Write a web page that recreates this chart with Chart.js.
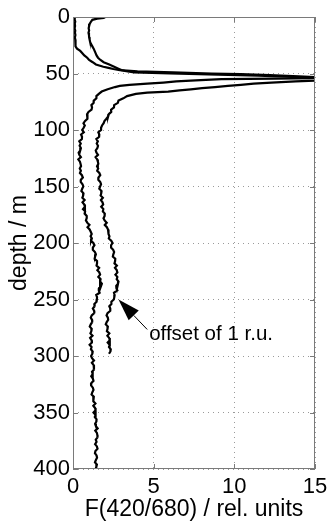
<!DOCTYPE html>
<html>
<head>
<meta charset="utf-8">
<script src="https://cdn.jsdelivr.net/npm/chart.js@4/dist/chart.umd.min.js"></script>
<style>
html,body{margin:0;padding:0;background:#fff;}
#wrap{width:328px;height:521px;}
</style>
</head>
<body>
<div id="wrap"><canvas id="c" width="328" height="521"></canvas></div>
<script>
// ---- tick labels ----
const xTicks = [0, 5, 10, 15];
const yTicks = [0, 50, 100, 150, 200, 250, 300, 350, 400];

// ---- profile 1 (no offset): depth (m) and F(420/680) ----
const depthA = [0,2,4,6,8,10,12,14,16,18,20,22,24,26,28,30,32,34,36,38,40,42,44,45,46,47,48,49,50,50.5,51.5,52.5,53.5,54,54.5,55,56,57,58,59,60,61,62,64,66,68,70,
72,74,76,78,80,82,84,86,88,90,92,94,96,98,100,102,104,106,108,110,112,114,116,118,120,122,124,126,128,130,132,134,136,138,140,142,144,146,148,150,
152,154,156,158,160,162,164,166,168,170,172,174,176,178,180,182,184,186,188,190,192,194,196,198,200,202,204,206,208,210,212,214,216,218,220,222,224,226,228,230,
232,234,236,238,240,242,244,246,248,250,252,254,256,258,260,262,264,266,268,270,272,274,276,278,280,282,284,286,288,290,292,294,296,298,300,
302,304,306,308,310,312,314,316,318,320,322,324,326,328,330,332,334,336,338,340,342,344,346,348,350,352,354,356,358,360,362,364,366,368,370,
372,374,376,378,380,382,384,386,388,390,392,394,396,398,400];
const valueA = [0.12,0.10,0.14,0.11,0.13,0.10,0.14,0.12,0.15,0.12,0.14,0.13,0.16,0.18,0.25,0.45,0.58,0.7,0.88,1.0,1.22,1.42,1.88,2.2,2.5,2.9,4.0,6.2,8.6,10.4,12.2,14.0,15.4,15.4,12.5,9.2,7.6,6.4,5.6,4.6,3.5,2.9,2.6,2.15,1.78,1.6,1.45,
1.45,1.29,1.28,1.14,1.18,1.15,0.96,0.87,0.91,0.88,0.75,0.65,0.73,0.66,0.57,
0.67,0.5,0.56,0.55,0.39,0.48,0.41,0.49,0.45,0.35,0.39,0.49,0.33,0.43,0.47,
0.5,0.42,0.49,0.43,0.55,0.61,0.49,0.48,0.59,0.64,0.57,0.52,0.65,0.63,0.58,
0.72,0.59,0.7,0.74,0.62,0.75,0.72,0.85,0.85,0.8,0.88,1.02,0.9,1.03,1.1,
1.16,1.09,1.17,1.12,1.26,1.33,1.23,1.23,1.36,1.42,1.37,1.34,1.49,1.49,1.46,
1.62,1.51,1.63,1.68,1.57,1.71,1.68,1.79,1.74,1.61,1.6,1.65,1.44,1.49,1.48,
1.46,1.32,1.34,1.23,1.31,1.32,1.16,1.1,1.18,1.19,1.1,1.04,1.16,1.14,1.08,
1.21,1.06,1.15,1.17,1.03,1.15,1.11,1.22,1.2,1.12,1.18,1.3,1.17,1.28,1.3,
1.3,1.18,1.22,1.13,1.23,1.27,1.14,1.12,1.23,1.27,1.2,1.15,1.29,1.28,1.24,
1.39,1.26,1.37,1.4,1.27,1.39,1.35,1.46,1.45,1.37,1.42,1.53,1.38,1.48,1.51,
1.52,1.41,1.46,1.37,1.48,1.52,1.39,1.36,1.46,1.49,1.42,1.36,1.48,1.45,1.4];

// ---- profile 2 (plotted with an offset of 1 r.u.) ----
const depthB = [0,0.8,1.5,2.5,4,6,8,10,12,14,16,18,20,22,24,26,28,30,32,34,36,38,40,42,44,46,47,48,49,50,51,52,53,54,55,56,57,58,59,60,61,62,63,64,65,66,67,68,70,
72,74,76,78,80,82,84,86,88,90,92,94,96,98,100,102,104,106,108,110,112,114,116,118,120,122,124,126,128,130,132,134,136,138,140,142,144,146,148,150,
152,154,156,158,160,162,164,166,168,170,172,174,176,178,180,182,184,186,188,190,192,194,196,198,200,202,204,206,208,210,212,214,216,218,220,222,224,226,228,230,
232,234,236,238,240,242,244,246,248,250,252,254,256,258,260,262,264,266,268,270,272,274,276,278,280,282,284,286,288,290,292,294,296,298];
const valueB = [2.0,1.9,1.5,1.2,1.12,1.04,1.0,0.97,1.0,0.96,0.99,1.0,1.03,1.06,1.12,1.2,1.28,1.34,1.4,1.46,1.55,1.7,1.9,2.25,2.55,2.85,3.0,3.3,3.8,6.0,9.0,11.5,13.5,15.0,15.4,15.4,13.8,12.3,11.2,10.4,9.6,8.8,8.0,7.3,6.6,5.9,4.6,3.9,3.35,
3.12,2.82,2.78,2.55,2.54,2.36,2.37,2.22,2.18,2.07,1.95,1.9,1.8,1.74,
1.74,1.57,1.63,1.62,1.45,1.54,1.47,1.55,1.51,1.41,1.45,1.55,1.4,1.5,1.54,
1.57,1.49,1.56,1.5,1.63,1.69,1.58,1.57,1.69,1.74,1.68,1.63,1.77,1.75,1.71,
1.85,1.73,1.83,1.87,1.75,1.88,1.85,1.97,1.96,1.89,1.96,2.09,1.97,2.1,2.17,
2.23,2.17,2.26,2.22,2.37,2.45,2.36,2.36,2.49,2.55,2.5,2.47,2.62,2.61,2.57,
2.72,2.6,2.71,2.75,2.63,2.75,2.71,2.82,2.79,2.68,2.69,2.75,2.54,2.58,2.56,
2.53,2.38,2.38,2.25,2.31,2.31,2.14,2.08,2.16,2.18,2.09,2.03,2.16,2.14,2.1,
2.25,2.13,2.24,2.28,2.15,2.27,2.23,2.34,2.32,2.23];

// ---- annotation (data units) ----
const noteText = 'offset of 1 r.u.';
const arrowTip = {x: 2.82, y: 250};
const arrowTail = {x: 4.6, y: 276.5};
const notePos = {x: 4.72, y: 285.5};

const FONT = "'Liberation Sans', Arial, Helvetica, sans-serif";
const toPts = (ds, vs) => ds.map((d, i) => ({x: vs[i], y: d}));

const framePlugin = {
  id: 'frame',
  afterDraw(chart) {
    const {ctx, chartArea: {left, right, top, bottom}, scales: {x, y}} = chart;
    ctx.save();
    ctx.strokeStyle = '#7a7a7a';
    ctx.lineWidth = 1;
    ctx.strokeRect(Math.round(left) + 0.5, Math.round(top) + 0.5, Math.round(right - left) - 1, Math.round(bottom - top) - 1);
    ctx.beginPath();
    const tl = 5;
    xTicks.forEach(v => {
      const px = Math.round(x.getPixelForValue(v)) + 0.5;
      ctx.moveTo(px, bottom); ctx.lineTo(px, bottom - tl);
      ctx.moveTo(px, top); ctx.lineTo(px, top + tl);
    });
    yTicks.forEach(v => {
      const py = Math.round(y.getPixelForValue(v)) + 0.5;
      ctx.moveTo(left, py); ctx.lineTo(left + tl, py);
      ctx.moveTo(right, py); ctx.lineTo(right - tl, py);
    });
    ctx.stroke();

    // arrow
    const tx = x.getPixelForValue(arrowTip.x), ty = y.getPixelForValue(arrowTip.y);
    const sx = x.getPixelForValue(arrowTail.x), sy = y.getPixelForValue(arrowTail.y);
    const ang = Math.atan2(ty - sy, tx - sx);
    const hl = 22, hw = 7;
    const bx = tx - hl * Math.cos(ang), by = ty - hl * Math.sin(ang);
    ctx.strokeStyle = '#000';
    ctx.lineWidth = 1;
    ctx.beginPath();
    ctx.moveTo(sx, sy); ctx.lineTo(bx, by);
    ctx.stroke();
    ctx.fillStyle = '#000';
    ctx.beginPath();
    ctx.moveTo(tx, ty);
    ctx.lineTo(bx + hw * Math.sin(ang), by - hw * Math.cos(ang));
    ctx.lineTo(bx - hw * Math.sin(ang), by + hw * Math.cos(ang));
    ctx.closePath();
    ctx.fill();

    ctx.font = '20.5px ' + FONT;
    ctx.textAlign = 'left';
    ctx.textBaseline = 'alphabetic';
    ctx.fillText(noteText, x.getPixelForValue(notePos.x), y.getPixelForValue(notePos.y));
    ctx.restore();
  }
};

new Chart(document.getElementById('c'), {
  type: 'scatter',
  data: {
    datasets: [
      {data: toPts(depthA, valueA), showLine: true, borderColor: '#000', borderWidth: 2.2, pointRadius: 0, tension: 0},
      {data: toPts(depthB, valueB), showLine: true, borderColor: '#000', borderWidth: 2.2, pointRadius: 0, tension: 0}
    ]
  },
  options: {
    responsive: false,
    animation: false,
    devicePixelRatio: 1,
    layout: {padding: {top: 17, right: 13, bottom: 0, left: 0}},
    plugins: {legend: {display: false}, tooltip: {enabled: false}},
    scales: {
      x: {
        type: 'linear', min: 0, max: 15,
        afterBuildTicks: s => { s.ticks = xTicks.map(v => ({value: v})); },
        afterFit: s => { s.height = 52; s.paddingLeft = 0; s.paddingRight = 0; },
        ticks: {color: '#000', font: {family: FONT, size: 22}, padding: 5, maxRotation: 0, autoSkip: false},
        grid: {color: '#9a9a9a', lineWidth: 1, drawTicks: false},
        border: {display: false, dash: [1, 4]},
        title: {display: true, text: 'F(420/680) / rel. units', color: '#000', font: {family: FONT, size: 23, lineHeight: 1}, padding: {top: 0, bottom: 0}}
      },
      y: {
        type: 'linear', min: 0, max: 400, reverse: true,
        afterBuildTicks: s => { s.ticks = yTicks.map(v => ({value: v})); },
        afterFit: s => { s.width = 73; s.paddingTop = 0; s.paddingBottom = 0; },
        ticks: {color: '#000', font: {family: FONT, size: 22}, padding: 3, autoSkip: false},
        grid: {color: '#9a9a9a', lineWidth: 1, drawTicks: false},
        border: {display: false, dash: [1, 4]},
        title: {display: true, text: 'depth / m', color: '#000', font: {family: FONT, size: 23, lineHeight: 1}, padding: {top: 8, bottom: 0}}
      }
    }
  },
  plugins: [framePlugin]
});
</script>
</body>
</html>
